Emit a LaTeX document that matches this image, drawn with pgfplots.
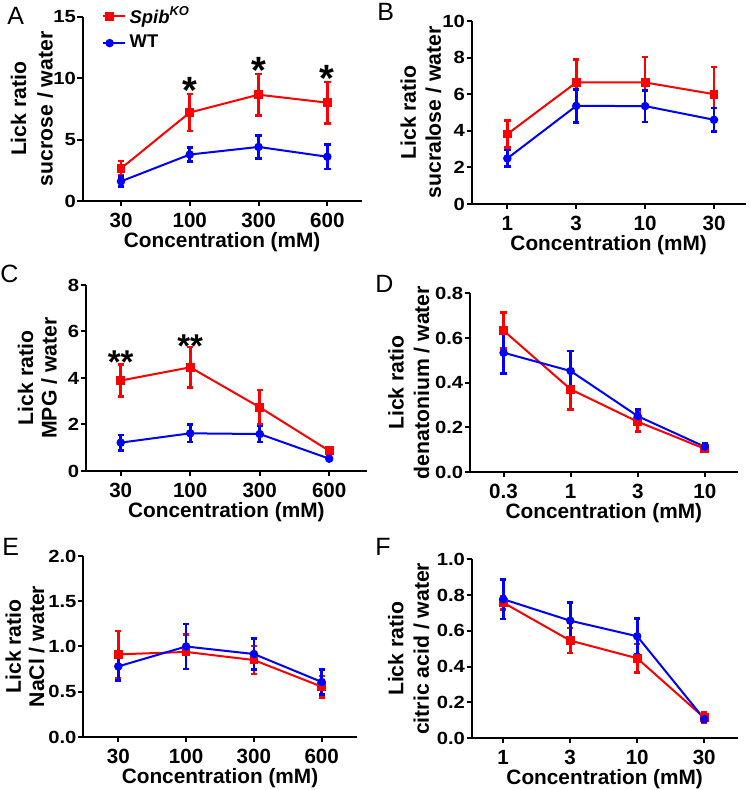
\documentclass[border=0pt]{standalone}
\usepackage{fontspec}
\setmainfont{Liberation Sans}
\newfontfamily\ytf{Liberation Sans}[FakeStretch=1.15]
\usepackage{pgfplots}
\pgfplotsset{compat=1.18}
\tikzset{sigstar/.style={font=\bfseries\fontsize{19}{19}\selectfont, anchor=base, yshift=-10.8pt, inner sep=0pt},
  sigstarc/.style={font=\bfseries\fontsize{16.5}{17}\selectfont, anchor=base, yshift=-9.4pt, inner sep=0pt}}
\pgfplotsset{
  panel/.style={
    scale only axis, anchor=south west,
    axis x line*=bottom, axis y line*=left,
    axis line style={-, line width=1pt, black},
    tick align=outside, major tick length=2.6pt,
    every tick/.style={line width=1pt, black},
    xtick={0,1,2,3}, ymin=0,
    /pgf/number format/assume math mode=true,
    xticklabel style={font=\bfseries\fontsize{10.3}{12}\selectfont},
    yticklabel style={font=\ytf\bfseries\fontsize{8.8}{10}\selectfont, inner xsep=0.6pt},
    xlabel={Concentration (mM)},
    xlabel style={font=\bfseries\fontsize{10.4}{12.5}\selectfont, yshift=4.5pt},
    clip=false,
  },
  ylab/.style 2 args={every axis y label/.style={at={(axis description cs:#1,0.5)}, rotate=90, anchor=center,
     font=\bfseries\fontsize{10.6}{#2}\selectfont, align=center}},
  dec/.style={yticklabel style={/pgf/number format/.cd, fixed, fixed zerofill, precision=1}},
  ko/.style={red, line width=1pt, mark=square*, mark size=1.7pt, mark options={solid},
     error bars/.cd, y dir=both, y explicit,
     error bar style={line width=1.3pt, red},
     error mark options={rotate=90, mark size=1.6pt, line width=1.3pt, red}},
  wt/.style={blue, line width=1pt, mark=*, mark size=1.6pt, mark options={solid},
     error bars/.cd, y dir=both, y explicit,
     error bar style={line width=1.3pt, blue},
     error mark options={rotate=90, mark size=1.6pt, line width=1.3pt, blue}},
}
\pgfplotstableread[row sep=\\]{x y e\\ 0 2.65 0.6\\ 1 7.2 1.5\\ 2 8.65 1.7\\ 3 8.0 1.7\\}\Ako
\pgfplotstableread[row sep=\\]{x y e\\ 0 1.6 0.4\\ 1 3.78 0.58\\ 2 4.4 0.92\\ 3 3.6 1.0\\}\Awt
\pgfplotstableread[row sep=\\]{x y e\\ 0 3.82 0.73\\ 1 6.64 1.27\\ 2 6.64 1.4\\ 3 6.0 1.49\\}\Bko
\pgfplotstableread[row sep=\\]{x y e\\ 0 2.49 0.45\\ 1 5.36 0.9\\ 2 5.35 0.86\\ 3 4.6 0.65\\}\Bwt
\pgfplotstableread[row sep=\\]{x y e\\ 0 3.89 0.68\\ 1 4.46 0.88\\ 2 2.74 0.75\\ 3 0.87 0.15\\}\Cko
\pgfplotstableread[row sep=\\]{x y e\\ 0 1.22 0.33\\ 1 1.62 0.37\\ 2 1.59 0.35\\ 3 0.53 0.03\\}\Cwt
\pgfplotstableread[row sep=\\]{x y e\\ 0 0.633 0.08\\ 1 0.37 0.09\\ 2 0.225 0.045\\ 3 0.104 0.012\\}\Dko
\pgfplotstableread[row sep=\\]{x y e\\ 0 0.534 0.093\\ 1 0.452 0.09\\ 2 0.25 0.03\\ 3 0.113 0.017\\}\Dwt
\pgfplotstableread[row sep=\\]{x y e\\ 0 0.913 0.26\\ 1 0.94 0.19\\ 2 0.85 0.155\\ 3 0.556 0.12\\}\Eko
\pgfplotstableread[row sep=\\]{x y e\\ 0 0.78 0.155\\ 1 1.0 0.25\\ 2 0.917 0.17\\ 3 0.608 0.14\\}\Ewt
\pgfplotstableread[row sep=\\]{x y e\\ 0 0.758 0.037\\ 1 0.546 0.07\\ 2 0.447 0.08\\ 3 0.115 0.03\\}\Fko
\pgfplotstableread[row sep=\\]{x y e\\ 0 0.777 0.11\\ 1 0.657 0.1\\ 2 0.57 0.1\\ 3 0.108 0.015\\}\Fwt
\begin{document}
\begin{tikzpicture}
\useasboundingbox (0,0) rectangle (375pt,395pt);
% A
\begin{axis}[panel, ylab={-0.182}{13.2}, at={(41.35pt,294.5pt)}, width=139.5pt, height=92.15pt,
  xmin=-0.557, xmax=3.5, ymax=15, ytick={0,5,10,15},
  xticklabels={30,100,300,600}, ylabel={Lick ratio\\sucrose / water},
  legend style={at={(0.045,1.1)}, anchor=north west, draw=none, fill=none,
    font=\bfseries\fontsize{9.2}{11}\selectfont, row sep=0.5pt},
  legend cell align=left,
  legend image code/.code={\path (0pt,0pt) -- (11pt,0pt);\draw[mark repeat=2,mark phase=2,#1] plot coordinates {(0pt,0pt) (3.5pt,0pt) (7pt,0pt)};}]
\addplot[ko] table[x=x,y=y,y error=e] {\Ako};
\addlegendentry{\textit{Spib\textsuperscript{KO}}}
\addplot[wt] table[x=x,y=y,y error=e] {\Awt};
\addlegendentry{WT}
\node[sigstar] at (axis cs:1,9.71) {*};
\node[sigstar] at (axis cs:2,11.33) {*};
\node[sigstar] at (axis cs:3,10.66) {*};
\end{axis}
% B
\begin{axis}[panel, ylab={-0.185}{12.5}, at={(235.85pt,293pt)}, width=137pt, height=91.5pt,
  xmin=-0.517, xmax=3.46, ymax=10, ytick={0,2,4,6,8,10},
  xticklabels={1,3,10,30}, ylabel={Lick ratio\\sucralose / water}]
\addplot[ko] table[x=x,y=y,y error=e] {\Bko};
\addplot[wt] table[x=x,y=y,y error=e] {\Bwt};
\end{axis}
% C
\begin{axis}[panel, ylab={-0.173}{11.8}, at={(43pt,159.5pt)}, width=140.35pt, height=93pt,
  xmin=-0.5, xmax=3.54, ymax=8, ytick={0,2,4,6,8},
  xticklabels={30,100,300,600}, ylabel={Lick ratio\\MPG / water}]
\addplot[ko] table[x=x,y=y,y error=e] {\Cko};
\addplot[wt] table[x=x,y=y,y error=e] {\Cwt};
\node[sigstarc] at (axis cs:0,4.99) {**};
\node[sigstarc] at (axis cs:1,5.68) {**};
\end{axis}
% D
\begin{axis}[panel, dec, ylab={-0.228}{12.8}, at={(235pt,159pt)}, width=133.85pt, height=89.35pt,
  xmin=-0.5, xmax=3.49, ymax=0.8, ytick={0,0.2,0.4,0.6,0.8},
  xticklabels={0.3,1,3,10}, ylabel={Lick ratio\\denatonium / water}]
\addplot[ko] table[x=x,y=y,y error=e] {\Dko};
\addplot[wt] table[x=x,y=y,y error=e] {\Dwt};
\end{axis}
% E
\begin{axis}[panel, dec, ylab={-0.213}{11.6}, at={(41.65pt,26.5pt)}, width=136.7pt, height=90.5pt,
  xmin=-0.516, xmax=3.516, ymax=2, ytick={0,0.5,1,1.5,2},
  xticklabels={30,100,300,600}, ylabel={Lick ratio\\NaCl / water}]
\addplot[ko] table[x=x,y=y,y error=e] {\Eko};
\addplot[wt] table[x=x,y=y,y error=e] {\Ewt};
\end{axis}
% F
\begin{axis}[panel, dec, ylab={-0.237}{12.8}, at={(235.85pt,25.85pt)}, width=133pt, height=89.5pt,
  xmin=-0.47, xmax=3.5, ymax=1, ytick={0,0.2,0.4,0.6,0.8,1},
  xticklabels={1,3,10,30}, ylabel={Lick ratio\\citric acid / water}]
\addplot[ko] table[x=x,y=y,y error=e] {\Fko};
\addplot[wt] table[x=x,y=y,y error=e] {\Fwt};
\end{axis}
\node[anchor=north west, inner sep=0pt, font=\fontsize{12.5}{14}\selectfont] at (3.5pt,391.5pt) {A};
\node[anchor=north west, inner sep=0pt, font=\fontsize{12.5}{14}\selectfont] at (188.5pt,393.5pt) {B};
\node[anchor=north west, inner sep=0pt, font=\fontsize{12.5}{14}\selectfont] at (0pt,262.5pt) {C};
\node[anchor=north west, inner sep=0pt, font=\fontsize{12.5}{14}\selectfont] at (187.5pt,257.5pt) {D};
\node[anchor=north west, inner sep=0pt, font=\fontsize{12.5}{14}\selectfont] at (1pt,126pt) {E};
\node[anchor=north west, inner sep=0pt, font=\fontsize{12.5}{14}\selectfont] at (187.5pt,126pt) {F};
\end{tikzpicture}
\end{document}
